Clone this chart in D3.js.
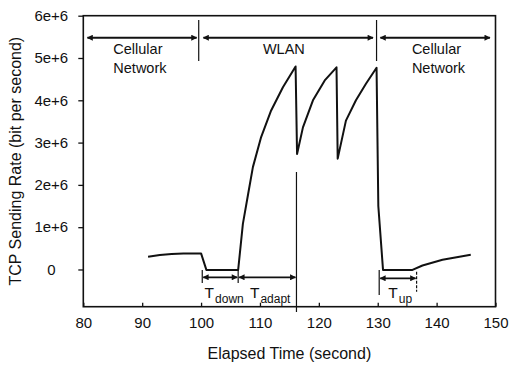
<!DOCTYPE html>
<html>
<head>
<meta charset="utf-8">
<script src="https://cdn.jsdelivr.net/npm/d3@7"></script>
<style>
  html, body { margin: 0; padding: 0; background: #fff; }
  svg { display: block; font-family: "Liberation Sans", Arial, sans-serif; }
</style>
</head>
<body>
<svg id="chart" width="510" height="367"></svg>
<script>
// ---- data ----
const timeSec = [91, 93, 95, 97, 100, 100.9, 106.3, 107.1, 108.0, 108.8, 110.2, 111.9, 113.9, 116.05,
                 116.3, 117.3, 119.0, 121.0, 123.0, 123.2, 124.6, 126.3, 128.0, 129.8,
                 130.1, 130.9, 135.9, 137.6, 141.0, 145.8];
const rateBps = [0.30e6, 0.34e6, 0.365e6, 0.38e6, 0.38e6, -0.01e6, -0.01e6, 1.08e6, 1.79e6, 2.42e6, 3.13e6, 3.76e6, 4.31e6, 4.80e6,
                 2.73e6, 3.36e6, 4.0e6, 4.47e6, 4.78e6, 2.62e6, 3.52e6, 4.0e6, 4.39e6, 4.77e6,
                 1.5e6, -0.01e6, -0.01e6, 0.095e6, 0.23e6, 0.35e6];
const xTicks = [80, 90, 100, 110, 120, 130, 140, 150];
const yTicks = [0, 1e6, 2e6, 3e6, 4e6, 5e6, 6e6];
const yTickLabels = ["0", "1e+6", "2e+6", "3e+6", "4e+6", "5e+6", "6e+6"];
const regionNames = [["Cellular", "Network"], ["WLAN"], ["Cellular", "Network"]];
const regionStart = [80.7, 100.4, 130.45];
const regionEnd = [99.25, 129.2, 149.05];
const regionLabelX = [85.1, 110.5, 135.8];
const handoverTimes = [99.6, 129.8];
const phaseNames = ["down", "adapt", "up"];
const phaseStart = [100.2, 106.3, 130.25];
const phaseEnd = [106.3, 116.2, 136.6];
const phaseLabelX = [100.6, 108.3, 131.8];
const xTitle = "Elapsed Time (second)";
const yTitle = "TCP Sending Rate (bit per second)";

// ---- layout ----
const svg = d3.select("#chart");
const x = d3.scaleLinear().domain([80, 150]).range([83.3, 495.5]);
const y = d3.scaleLinear().domain([-0.88e6, 6e6]).range([306.7, 15.7]);
const ink = "#111";

svg.append("defs").append("marker")
  .attr("id", "ah").attr("viewBox", "0 0 10 10").attr("refX", 9).attr("refY", 5)
  .attr("markerWidth", 9).attr("markerHeight", 6).attr("markerUnits", "userSpaceOnUse")
  .attr("orient", "auto-start-reverse")
  .append("path").attr("d", "M0,0 L10,5 L0,10 Z").attr("fill", ink);

// frame
svg.append("rect")
  .attr("x", x(80)).attr("y", y(6e6))
  .attr("width", x(150) - x(80)).attr("height", y(-0.88e6) - y(6e6))
  .attr("fill", "none").attr("stroke", ink).attr("stroke-width", 1.6);

// axes
const gx = svg.append("g").attr("transform", `translate(0,${y(-0.88e6)})`)
  .call(d3.axisBottom(x).tickValues(xTicks).tickSize(-4).tickPadding(11).tickFormat(d3.format("d")));
gx.select(".domain").remove();
gx.selectAll("line").attr("stroke", ink).attr("stroke-width", 1.3);
gx.selectAll("text").attr("font-size", 15).attr("fill", ink);

const gy = svg.append("g").attr("transform", `translate(${x(80)},0)`)
  .call(d3.axisLeft(y).tickValues(yTicks).tickSize(5).tickFormat((d, i) => yTickLabels[i]));
gy.select(".domain").remove();
gy.selectAll("line").attr("stroke", ink).attr("stroke-width", 1.3);
gy.selectAll("text").attr("font-size", 15).attr("fill", ink)
  .attr("text-anchor", "middle").attr("x", -32);

// titles
svg.append("text").attr("x", (x(80) + x(150)) / 2).attr("y", 359)
  .attr("text-anchor", "middle").attr("font-size", 16).attr("fill", ink).text(xTitle);
svg.append("text").attr("transform", `translate(21,${(y(6e6) + y(-0.88e6)) / 2 + 0}) rotate(-90)`)
  .attr("text-anchor", "middle").attr("font-size", 16).attr("fill", ink).text(yTitle);

// data line
svg.append("path")
  .datum(timeSec.map((t, i) => [t, rateBps[i]]))
  .attr("fill", "none").attr("stroke", ink).attr("stroke-width", 2).attr("stroke-linejoin", "round")
  .attr("d", d3.line().x(d => x(d[0])).y(d => y(d[1])));

// top region arrows
const arrowY = 37.7;
regionNames.forEach((lines, i) => {
  svg.append("line")
    .attr("x1", x(regionStart[i])).attr("x2", x(regionEnd[i]))
    .attr("y1", arrowY).attr("y2", arrowY)
    .attr("stroke", ink).attr("stroke-width", 2)
    .attr("marker-start", "url(#ah)").attr("marker-end", "url(#ah)");
  lines.forEach((s, j) => {
    svg.append("text").attr("x", x(regionLabelX[i])).attr("y", 53.5 + j * 19.2)
      .attr("font-size", 14.5).attr("fill", ink).text(s);
  });
});
handoverTimes.forEach(t => {
  svg.append("line").attr("x1", x(t)).attr("x2", x(t)).attr("y1", 20).attr("y2", 61)
    .attr("stroke", ink).attr("stroke-width", 1.2);
});

// bottom phase annotations
const phaseY = [277.3, 277.3, 278.3];
const barTop = [270, 269, 270];
const barBottom = [283, 283, 295];
phaseNames.forEach((p, i) => {
  const a = x(phaseStart[i]), b = x(phaseEnd[i]);
  svg.append("line").attr("x1", a + 1).attr("x2", b - 1).attr("y1", phaseY[i]).attr("y2", phaseY[i])
    .attr("stroke", ink).attr("stroke-width", 1.8)
    .attr("marker-start", "url(#ah)").attr("marker-end", "url(#ah)");
  svg.append("line").attr("x1", a).attr("x2", a).attr("y1", barTop[i]).attr("y2", barBottom[i])
    .attr("stroke", ink).attr("stroke-width", 1.2);
  const t = svg.append("text").attr("x", x(phaseLabelX[i])).attr("y", 298).attr("fill", ink).attr("font-size", 15.5);
  t.append("tspan").text("T");
  t.append("tspan").attr("dy", 5).attr("dx", 1).attr("font-size", 12).text(p);
});
// right-hand bars of adapt and up phases
svg.append("line").attr("x1", x(phaseEnd[1])).attr("x2", x(phaseEnd[1])).attr("y1", 172).attr("y2", 312)
  .attr("stroke", ink).attr("stroke-width", 1.2);
svg.append("line").attr("x1", x(phaseEnd[2])).attr("x2", x(phaseEnd[2])).attr("y1", 271.7).attr("y2", 291.7)
  .attr("stroke", ink).attr("stroke-width", 1.2).attr("stroke-dasharray", "3,1.5");
</script>
</body>
</html>
